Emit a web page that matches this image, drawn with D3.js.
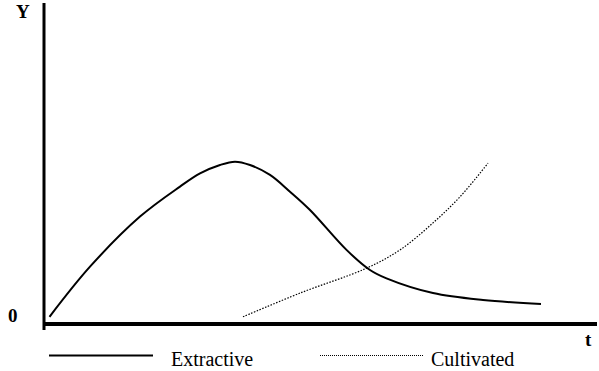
<!DOCTYPE html>
<html>
<head>
<meta charset="utf-8">
<script src="https://cdn.jsdelivr.net/npm/d3@7"></script>
<style>
  body { margin: 0; background: #fff; }
</style>
</head>
<body>
<div id="chart"></div>
<script>
const svgWidth = 599;
const svgHeight = 371;

// extractive curve (t, Y)
const extractiveT = [1.1, 9.2, 19.2, 27.2, 31.2, 35.2, 38.2, 41.2, 45.2, 49.2, 53.2, 60.5, 65.2, 68.5, 77.8, 87.8, 99.4];
const extractiveY = [2.4, 19.1, 35.8, 45.8, 50.2, 53.0, 54.1, 53.0, 49.7, 44.1, 38.0, 24.7, 18.0, 15.2, 10.3, 8.0, 6.7];

// cultivated curve (t, Y)
const cultivatedT = [39.8, 51.2, 64.5, 71.2, 77.8, 83.2, 88.8];
const cultivatedY = [2.4, 10.3, 18.6, 24.7, 33.7, 42.4, 53.6];

const legendLabels = ["Extractive", "Cultivated"];

const font = "Liberation Serif";

const svg = d3.select("#chart")
  .append("svg")
  .attr("width", svgWidth)
  .attr("height", svgHeight);

const xScale = d3.scaleLinear()
  .domain([0, 110.6])
  .range([44, 597]);

const yScale = d3.scaleLinear()
  .domain([0, 107])
  .range([324, 3]);

const line = d3.line()
  .x(d => xScale(d[0]))
  .y(d => yScale(d[1]))
  .curve(d3.curveCatmullRom.alpha(0.5));

const extractive = extractiveT.map((t, i) => [t, extractiveY[i]]);
const cultivated = cultivatedT.map((t, i) => [t, cultivatedY[i]]);

svg.append("path")
  .datum(extractive)
  .attr("d", line)
  .attr("fill", "none")
  .attr("stroke", "#000")
  .attr("stroke-width", 2);

svg.append("path")
  .datum(cultivated)
  .attr("d", line)
  .attr("fill", "none")
  .attr("stroke", "#000")
  .attr("stroke-width", 1.2)
  .attr("stroke-dasharray", "1.5,1.5");

// axes
svg.append("line")
  .attr("x1", xScale(0)).attr("x2", xScale(0))
  .attr("y1", yScale(107)).attr("y2", yScale(0) + 6)
  .attr("stroke", "#000")
  .attr("stroke-width", 3);

svg.append("line")
  .attr("x1", xScale(0) - 1).attr("x2", xScale(110.6))
  .attr("y1", yScale(0)).attr("y2", yScale(0))
  .attr("stroke", "#000")
  .attr("stroke-width", 4);

function label(x, y, txt, bold) {
  svg.append("text")
    .attr("x", x).attr("y", y)
    .attr("font-family", font)
    .attr("font-size", bold ? 19 : 20)
    .attr("font-weight", bold ? "bold" : "normal")
    .attr("fill", "#000")
    .text(txt);
}

label(16, 18, "Y", true);
label(8, 322, "0", true);
label(585, 346, "t", true);

// legend
svg.append("line")
  .attr("x1", 49).attr("x2", 153)
  .attr("y1", 355.5).attr("y2", 355.5)
  .attr("stroke", "#000").attr("stroke-width", 2);
label(171, 366, legendLabels[0], false);

svg.append("line")
  .attr("x1", 320).attr("x2", 423)
  .attr("y1", 355.5).attr("y2", 355.5)
  .attr("stroke", "#000").attr("stroke-width", 1)
  .attr("stroke-dasharray", "1,1");
label(431, 366, legendLabels[1], false);
</script>
</body>
</html>
